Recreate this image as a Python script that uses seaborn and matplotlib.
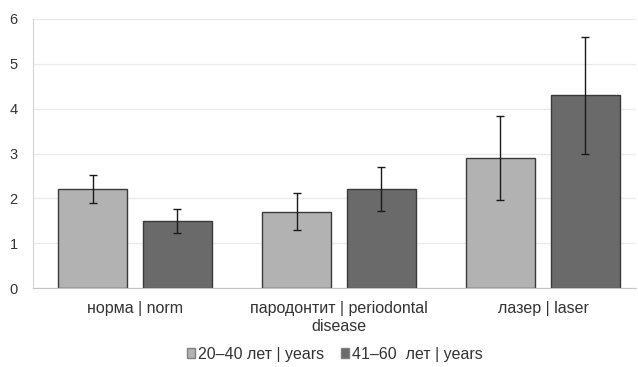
import matplotlib
matplotlib.use("Agg")
import matplotlib.pyplot as plt
import seaborn as sns
import pandas as pd

groups = ["норма | norm", "пародонтит | periodontal\ndisease", "лазер | laser"]
ages = ["20–40 лет | years", "41–60  лет | years"]
young = [2.2, 1.7, 2.9]
young_err = [0.31, 0.41, 0.93]
old = [1.5, 2.2, 4.3]
old_err = [0.27, 0.49, 1.3]

df = pd.DataFrame({
    "group": groups * 2,
    "age": [ages[0]] * 3 + [ages[1]] * 3,
    "value": young + old,
    "err": young_err + old_err,
})

sns.set_style("white")
plt.rcParams["font.family"] = ["Liberation Sans", "DejaVu Sans"]

fig = plt.figure(figsize=(6.38, 3.67), dpi=100)
ax = fig.add_axes([33 / 638, 79 / 367, 603 / 638, 269 / 367])

sns.barplot(data=df, x="group", y="value", hue="age", ax=ax,
            palette=["#b2b2b2", "#6a6a6a"], width=0.833, gap=0.188,
            errorbar=None, edgecolor="#3a3a3a", linewidth=1.0, legend=True)

# error bars at the bar centres
for i, a in enumerate(ages):
    sub = df[df["age"] == a]
    bars = ax.containers[i]
    xs = [p.get_x() + p.get_width() / 2 for p in bars]
    ax.errorbar(xs, sub["value"], yerr=sub["err"], fmt="none",
                ecolor="#1a1a1a", elinewidth=1.0, capsize=3, capthick=1.0)

ax.set_ylim(0, 6)
ax.set_xlim(-0.5, 2.456)
ax.set_yticks(range(7))
ax.yaxis.grid(True, color="#ebebeb", linewidth=1)
ax.set_axisbelow(True)
ax.set_xlabel("")
ax.set_ylabel("")
for s in ["top", "right"]:
    ax.spines[s].set_visible(False)
ax.spines["left"].set_color("#d4d4d4")
ax.spines["bottom"].set_color("#c4c4c4")
ax.tick_params(axis="x", length=0, labelsize=11.5, colors="#333333", pad=9)
ax.tick_params(axis="y", length=0, labelsize=10.5, colors="#333333", pad=11)
for t in ax.get_xticklabels():
    t.set_linespacing(1.3)

ax.legend(loc="center", bbox_to_anchor=(0.525, 0.035), bbox_transform=fig.transFigure,
          ncol=2, frameon=False, fontsize=11.5, handlelength=0.5, handleheight=0.5,
          handletextpad=0.15, columnspacing=1.1, labelcolor="#333333")
for h in ax.get_legend().get_patches():
    h.set_edgecolor("#808080")

fig.savefig("out.png", dpi=100)
